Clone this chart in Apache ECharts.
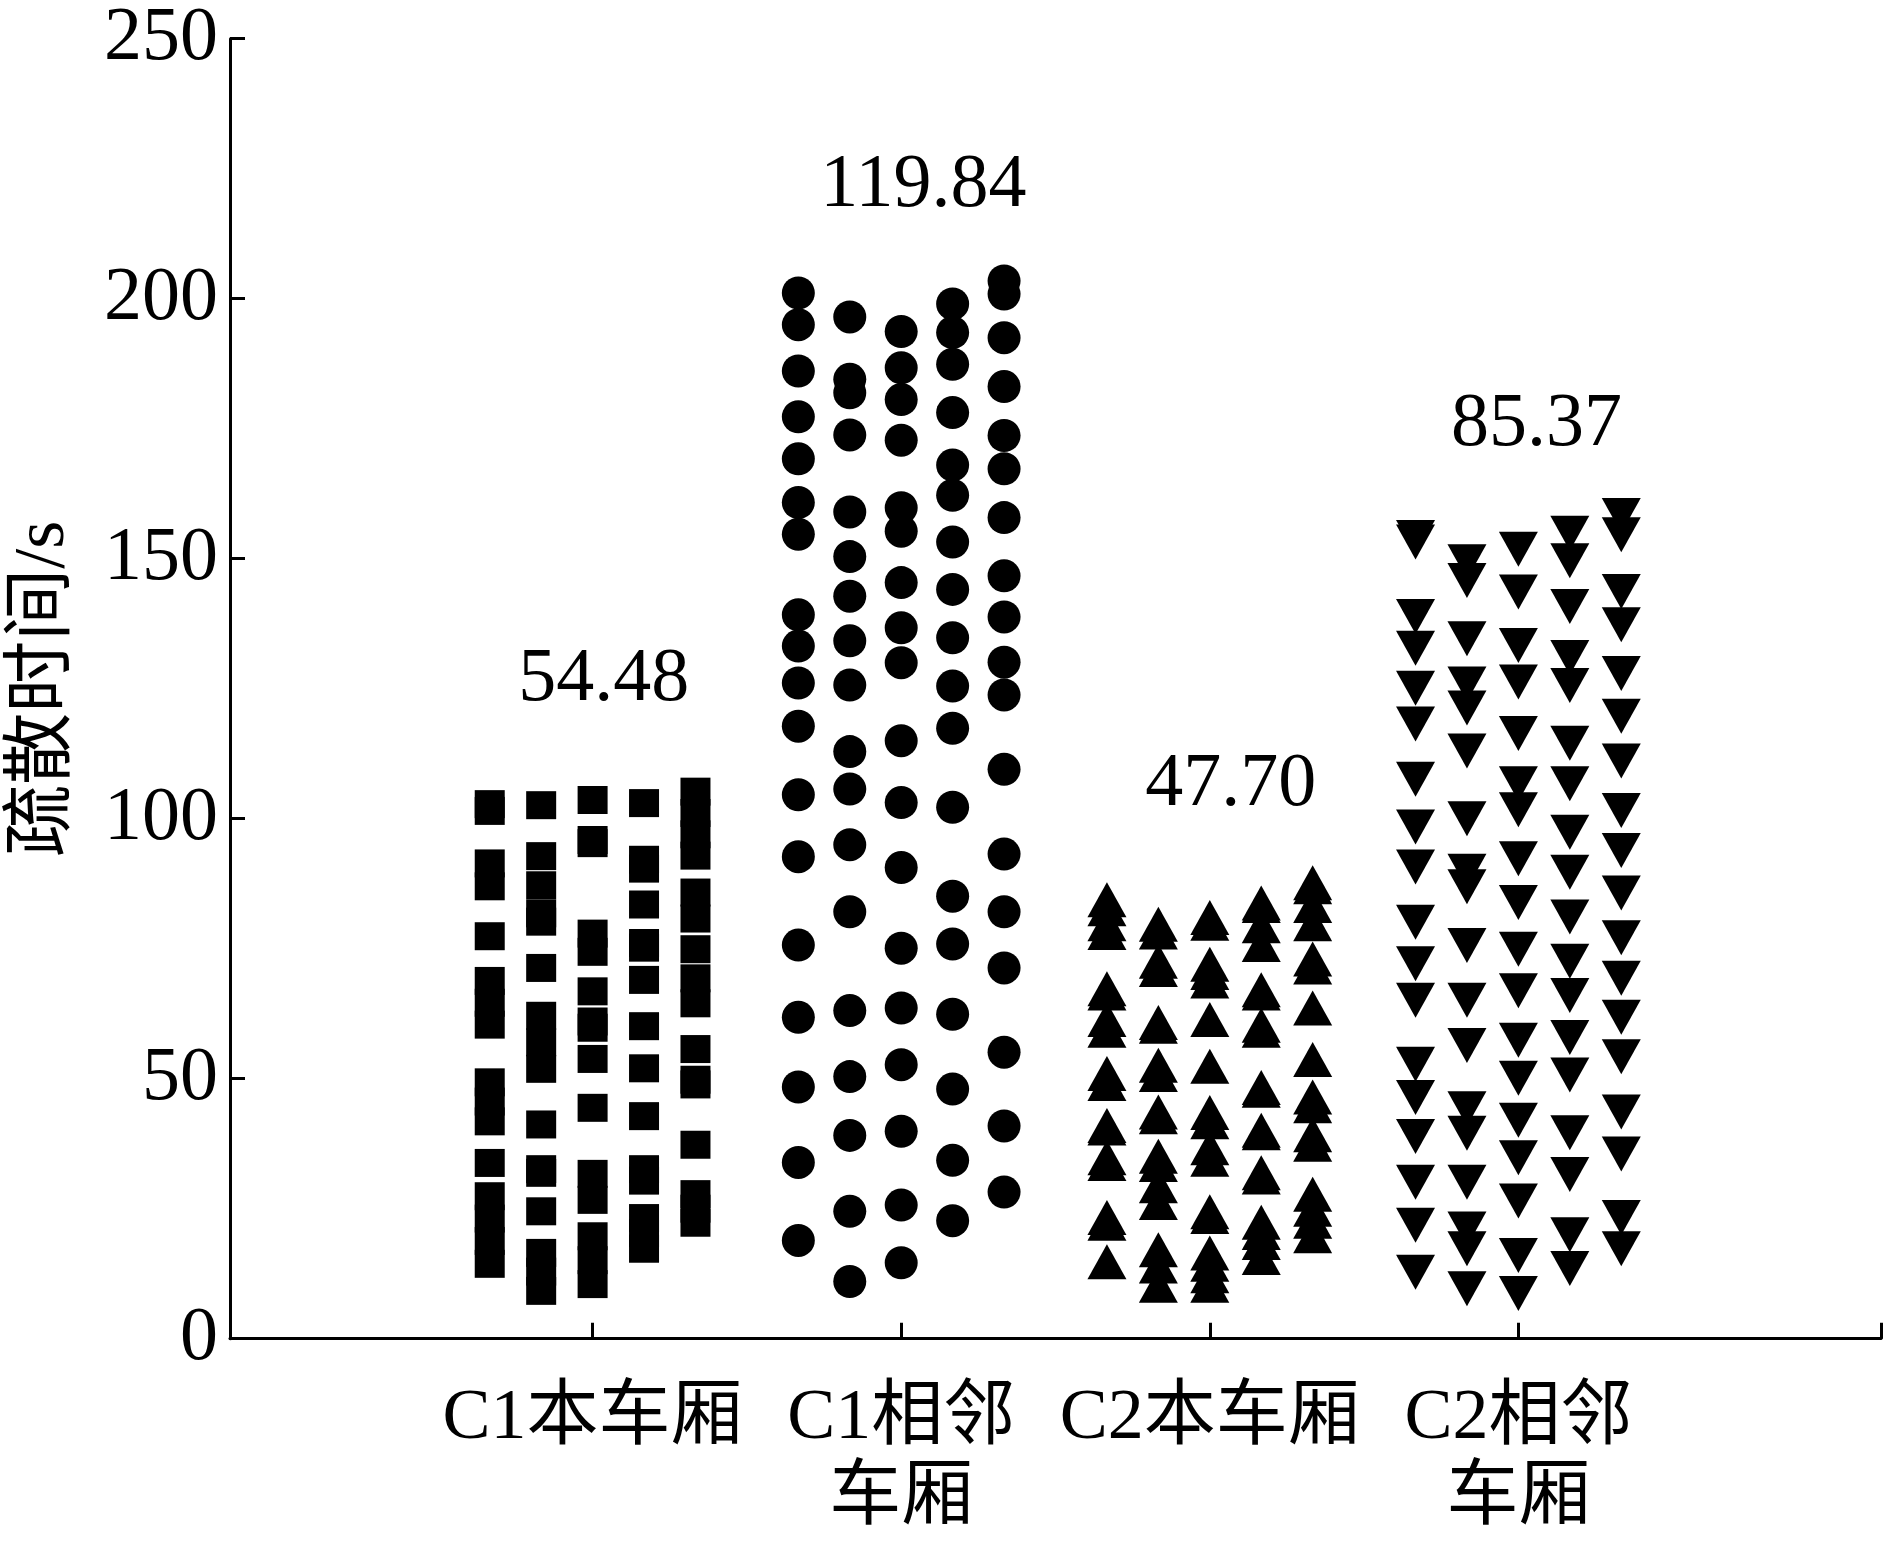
<!DOCTYPE html>
<html><head><meta charset="utf-8">
<script src="https://cdn.jsdelivr.net/npm/echarts@6/dist/echarts.min.js"></script>
<style>html,body{margin:0;padding:0;background:#fff}#c{width:1890px;height:1547px}</style>
</head><body><div id="c"></div>
<script>
// ---- data ----
const categories = ['C1本车厢', 'C1相邻\n车厢', 'C2本车厢', 'C2相邻\n车厢'];
const meanValues = [54.48, 119.84, 47.70, 85.37];
const meanLabelX = [1.036, 2.072, 3.068, 4.059];
const meanLabelY = [126.7, 221.6, 106.4, 175.7];
const yMin = 0, yMax = 250, yStep = 50;

// five jittered columns per group, values in seconds
const c1Own = [
  [102.8, 101.5, 91.4, 87.0, 77.4, 68.8, 64.6, 60.4, 49.3, 45.6, 41.8, 33.8, 27.4, 23.1, 18.8, 14.4],
  [102.6, 92.8, 87.2, 81.8, 80.2, 71.3, 62.1, 57.0, 51.9, 41.2, 32.6, 31.9, 24.5, 16.5, 12.9, 9.2],
  [103.6, 95.9, 95.3, 77.9, 74.4, 66.8, 61.0, 59.8, 53.8, 44.4, 31.7, 26.7, 19.7, 15.1, 10.5],
  [103.0, 92.1, 90.4, 83.5, 76.1, 75.2, 69.0, 60.1, 52.0, 42.8, 32.6, 30.4, 23.2, 20.3, 17.3],
  [105.2, 101.1, 97.0, 92.9, 85.8, 80.8, 74.9, 69.3, 64.5, 55.7, 49.8, 48.9, 37.3, 27.8, 25.0, 22.3]
];
const c1Adjacent = [
  [201.1, 195.0, 186.1, 177.3, 169.2, 160.8, 154.7, 139.2, 133.2, 126.1, 117.8, 104.6, 92.7, 75.7, 61.8, 48.4, 33.9, 18.9],
  [196.5, 184.5, 181.9, 173.8, 159.0, 150.4, 142.8, 134.2, 125.7, 112.9, 105.7, 95.0, 82.1, 63.1, 50.4, 39.1, 24.5, 11.0],
  [193.7, 186.7, 180.6, 172.8, 159.8, 155.3, 145.4, 136.7, 130.0, 115.0, 103.1, 90.6, 75.1, 63.6, 52.7, 39.9, 25.7, 14.6],
  [199.0, 193.5, 187.4, 178.1, 168.0, 162.2, 153.2, 144.1, 134.8, 125.5, 117.4, 102.2, 85.1, 75.9, 62.4, 48.0, 34.3, 22.7],
  [203.4, 200.9, 192.5, 183.1, 173.7, 167.3, 157.9, 146.7, 138.8, 130.1, 123.8, 109.5, 93.2, 82.1, 71.3, 55.1, 40.9, 28.2]
];
const c2Own = [
  [84.4, 82.7, 79.8, 78.1, 67.3, 66.5, 61.4, 59.3, 51.0, 49.1, 41.0, 40.5, 34.8, 33.7, 23.3, 22.2, 14.8],
  [79.7, 78.2, 72.6, 71.0, 60.8, 60.1, 52.6, 50.8, 43.6, 42.7, 35.1, 33.5, 29.4, 26.2, 17.1, 14.0, 10.3],
  [81.0, 79.9, 72.0, 70.4, 68.8, 61.4, 52.4, 43.5, 41.7, 36.7, 34.5, 24.4, 23.5, 16.5, 14.3, 12.1, 10.3],
  [83.8, 83.3, 79.4, 75.8, 67.1, 66.5, 60.3, 59.3, 48.3, 47.8, 40.1, 39.6, 31.9, 31.1, 22.4, 20.4, 18.5, 15.6],
  [87.7, 86.9, 83.3, 79.8, 73.0, 71.5, 63.6, 53.7, 46.5, 44.8, 39.2, 37.4, 27.8, 24.9, 22.6, 19.8]
];
const c2Adjacent = [
  [154.1, 153.2, 138.9, 132.8, 125.1, 118.2, 107.6, 98.4, 90.7, 80.1, 72.1, 65.1, 52.8, 46.4, 38.9, 30.1, 21.8, 12.8],
  [149.4, 145.8, 134.6, 125.9, 121.3, 113.0, 100.0, 89.9, 86.9, 75.6, 65.1, 56.4, 44.2, 39.5, 30.1, 21.1, 17.3, 9.6],
  [151.8, 143.6, 133.3, 126.3, 116.4, 106.7, 101.7, 92.3, 83.9, 74.9, 66.9, 57.4, 50.1, 42.0, 34.8, 26.5, 16.0, 8.7],
  [154.9, 149.6, 140.8, 131.0, 125.6, 114.5, 106.7, 97.4, 89.7, 81.1, 72.6, 66.0, 57.9, 50.7, 39.6, 31.6, 20.0, 13.5],
  [158.3, 154.6, 143.7, 137.3, 127.9, 119.7, 111.1, 101.6, 93.9, 85.7, 77.1, 69.3, 61.8, 54.2, 43.6, 35.5, 23.3, 17.3]
];

// ---- build ----
const columnOffsets = [-1/3, -1/6, 0, 1/6, 1/3];
const groups = [c1Own, c1Adjacent, c2Own, c2Adjacent];
function toPoints(group, gi) {
  const pts = [];
  group.forEach((col, ci) => col.forEach(v => pts.push([gi + 1 + columnOffsets[ci], v])));
  return pts;
}
const FONT = '"Liberation Serif", "Times New Roman", "Noto Sans CJK SC", serif';
const symbols = [
  { symbol: 'rect', symbolSize: [30, 28], symbolRotate: 0 },
  { symbol: 'circle', symbolSize: 33, symbolRotate: 0 },
  { symbol: 'triangle', symbolSize: [39, 35], symbolRotate: 0 },
  { symbol: 'triangle', symbolSize: [39, 35], symbolRotate: 180 }
];
const series = groups.map((g, gi) => ({
  type: 'scatter',
  data: toPoints(g, gi),
  symbol: symbols[gi].symbol,
  symbolSize: symbols[gi].symbolSize,
  symbolRotate: symbols[gi].symbolRotate,
  itemStyle: { color: '#000', opacity: 1 },
  silent: true
}));
series.push({
  type: 'scatter',
  symbol: 'circle',
  symbolSize: 1,
  itemStyle: { color: 'rgba(0,0,0,0)', opacity: 1 },
  data: meanValues.map((m, i) => [meanLabelX[i], meanLabelY[i]]),
  label: {
    show: true, position: 'inside', color: '#000', opacity: 1,
    fontFamily: FONT, fontSize: 76,
    formatter: p => meanValues[p.dataIndex].toFixed(2)
  },
  silent: true,
  z: 10
});

const xMin = -0.175, xMax = 5.175;
const chart = echarts.init(document.getElementById('c'));
chart.setOption({
  animation: false,
  backgroundColor: '#fff',
  grid: { left: 223, right: 9, top: 38.7, bottom: 208.3 },
  xAxis: {
    type: 'value', min: xMin, max: xMax,
    splitLine: { show: false },
    axisLine: { onZero: false, lineStyle: { color: '#000', width: 3 } },
    axisTick: { inside: true, length: 16, lineStyle: { color: '#000', width: 3 },
      customValues: [1, 2, 3, 4, xMax] },
    axisLabel: {
      customValues: [1, 2, 3, 4],
      formatter: v => categories[Math.round(v) - 1],
      color: '#000', fontFamily: FONT, fontSize: 72, lineHeight: 80, margin: 40
    }
  },
  yAxis: {
    type: 'value', min: yMin, max: yMax, interval: yStep,
    name: '疏散时间/s', nameLocation: 'middle', nameGap: 150,
    nameTextStyle: { color: '#000', fontFamily: FONT, fontSize: 72 },
    splitLine: { show: false },
    axisLine: { show: true, onZero: false, lineStyle: { color: '#000', width: 3 } },
    axisTick: { show: true, inside: true, length: 15, lineStyle: { color: '#000', width: 3 } },
    axisLabel: { color: '#000', fontFamily: FONT, fontSize: 76, margin: 12 }
  },
  series: series
});
</script>
</body></html>
